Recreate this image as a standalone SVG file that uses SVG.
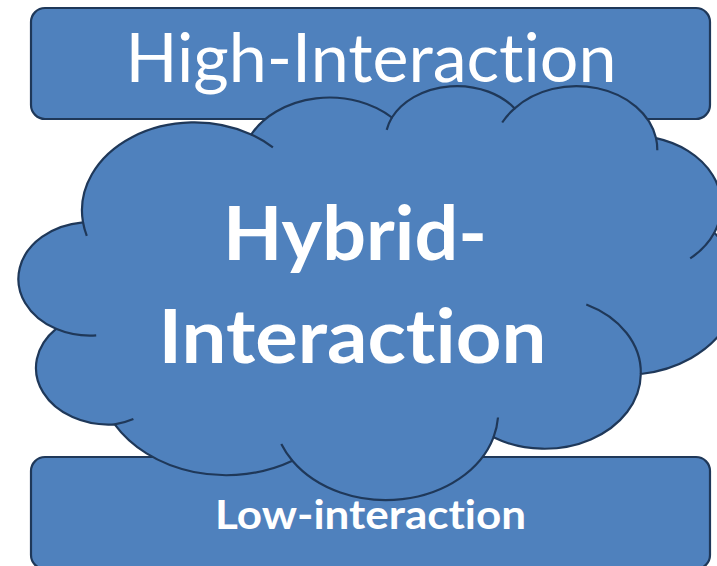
<svg xmlns="http://www.w3.org/2000/svg" width="717" height="566" viewBox="0 0 717 566">
  <style>
    .box { fill: #4F81BD; stroke: #1F3859; stroke-width: 2.2; }
    .cloud { fill: #4F81BD; stroke: #1F3859; stroke-width: 2.2; stroke-linejoin: round; }
    .seam { fill: none; stroke: #1F3859; stroke-width: 2.2; stroke-linecap: butt; }
    .label { fill: #FFFFFF; font-family: Lato, "Open Sans", "Liberation Sans", sans-serif; text-anchor: middle; font-variant-ligatures: none; font-feature-settings: "liga" 0, "clig" 0; }
  </style>
  <rect width="717" height="566" fill="#FFFFFF"/>

  <!-- upper tier -->
  <g id="high-interaction">
    <rect class="box" x="31" y="8" width="679" height="111" rx="14" ry="14"/>
    <text class="label" x="371" y="82" font-size="67.5" textLength="491" lengthAdjust="spacingAndGlyphs">High-Interaction</text>
  </g>

  <!-- lower tier -->
  <g id="low-interaction">
    <rect class="box" x="31" y="457" width="679" height="112" rx="14" ry="14"/>
    <text class="label" x="370.6" y="529" font-size="41" font-weight="bold" textLength="311" lengthAdjust="spacingAndGlyphs">Low-interaction</text>
  </g>

  <!-- middle tier: cloud outline built from eleven elliptical lobes -->
  <g id="hybrid-interaction">
    <path class="cloud" d="M 83.0,222.3
      A 112.4 88.0 0 0 1 251.2,134.5
      A 88.8 69.6 0 0 1 391.9,117.5
      A 72.7 56.9 0 0 1 514.7,108.4
      A 80.9 63.2 0 0 1 656.0,138.1
      A 88.8 69.7 0 0 1 714.3,232.7
      A 112.8 88.3 0 0 1 640.8,374.0
      A 96.3 75.4 0 0 1 493.5,437.3
      A 112.4 88.3 0 0 1 292.4,460.8
      A 128.5 101.0 0 0 1 114.7,424.4
      A 72.6 56.7 0 0 1 56.0,328.8
      A 72.3 56.9 0 0 1 83.0,222.3 Z"/>
    <!-- inner seams where lobes overlap -->
    <path class="seam" d="M 96.2,335.4 A 72.3 56.9 0 0 1 56.0,328.8"/>
    <path class="seam" d="M 133.4,419.0 A 72.6 56.7 0 0 1 114.7,424.4"/>
    <path class="seam" d="M 292.4,460.8 A 112.4 88.3 0 0 1 281.3,444.1"/>
    <path class="seam" d="M 498.0,417.5 A 112.4 88.3 0 0 1 493.5,437.3"/>
    <path class="seam" d="M 586.3,304.5 A 96.3 75.4 0 0 1 640.8,374.0"/>
    <path class="seam" d="M 714.3,232.7 A 88.8 69.7 0 0 1 690.2,258.4"/>
    <path class="seam" d="M 656.0,138.1 A 80.9 63.2 0 0 1 657.3,150.2"/>
    <path class="seam" d="M 502.2,122.5 A 80.9 63.2 0 0 1 514.7,108.4"/>
    <path class="seam" d="M 386.7,129.9 A 72.7 56.9 0 0 1 391.9,117.5"/>
    <path class="seam" d="M 251.2,134.5 A 112.4 88.0 0 0 1 272.9,147.4"/>
    <path class="seam" d="M 86.8,235.9 A 112.4 88.0 0 0 1 83.0,222.3"/>
    <text class="label" font-size="74.5" font-weight="bold">
      <tspan x="364" y="260" textLength="264" lengthAdjust="spacingAndGlyphs">Hybrid-</tspan>
      <tspan x="352.5" y="363" textLength="388" lengthAdjust="spacingAndGlyphs">Interaction</tspan>
    </text>
  </g>
</svg>
